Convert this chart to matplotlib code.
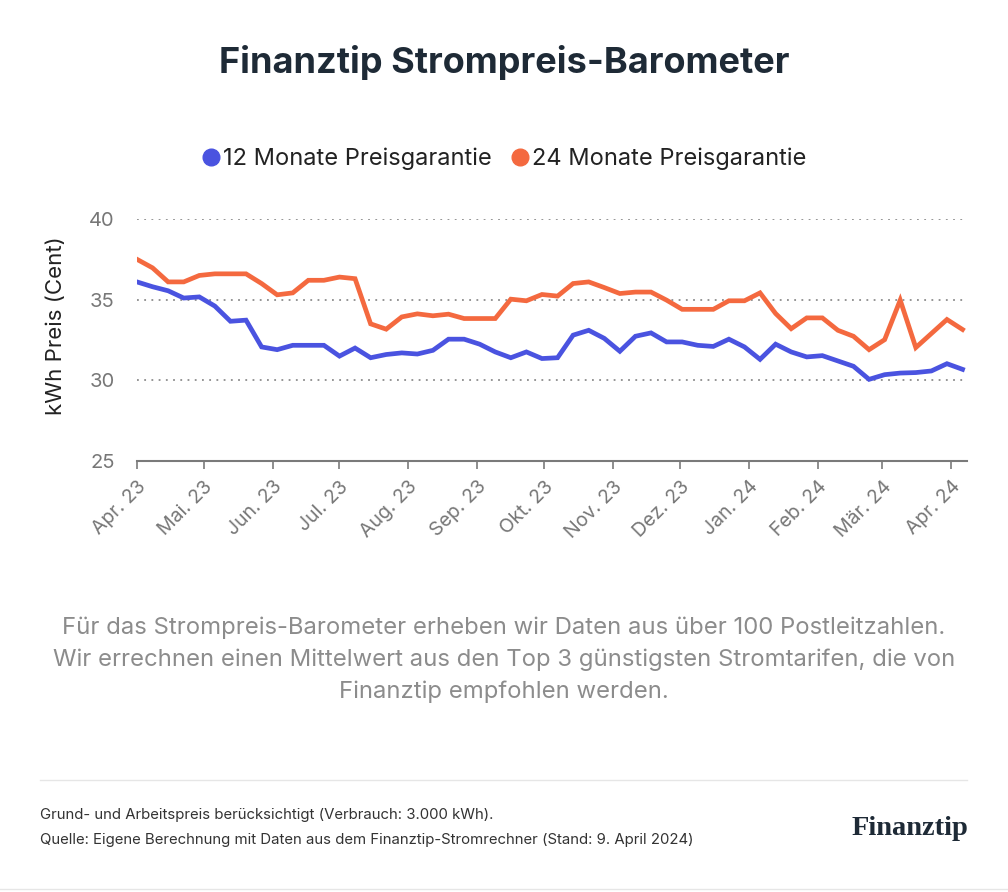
import pandas as pd
import numpy as np
import matplotlib
matplotlib.use('Agg')
import matplotlib.pyplot as plt
from matplotlib.lines import Line2D

plt.rcParams['font.family'] = ['Inter', 'DejaVu Sans']

# weekly values, Apr 2023 - Apr 2024 (ct/kWh)
dates = pd.date_range('2023-04-01', periods=54, freq='7D')
preis_12 = [36.1, 35.8, 35.55, 35.1, 35.17, 34.6, 33.66, 33.73, 32.07, 31.9,
            32.17, 32.17, 32.17, 31.5, 32.0, 31.4, 31.6, 31.7, 31.63, 31.86,
            32.55, 32.55, 32.24, 31.76, 31.4, 31.76, 31.35, 31.4, 32.8, 33.1,
            32.6, 31.8, 32.73, 32.94, 32.38, 32.38, 32.17, 32.1, 32.55, 32.07,
            31.3, 32.24, 31.76, 31.45, 31.53, 31.2, 30.87, 30.06, 30.35, 30.45,
            30.48, 30.58, 31.03, 30.68]
preis_24 = [37.5, 36.97, 36.1, 36.1, 36.5, 36.6, 36.6, 36.6, 36.0, 35.3,
            35.42, 36.2, 36.2, 36.4, 36.3, 33.5, 33.17, 33.93, 34.12, 34.0,
            34.1, 33.83, 33.83, 33.83, 35.03, 34.93, 35.32, 35.22, 36.0, 36.1,
            35.75, 35.38, 35.47, 35.47, 34.97, 34.4, 34.4, 34.4, 34.93, 34.93,
            35.42, 34.14, 33.2, 33.87, 33.87, 33.1, 32.73, 31.9, 32.52, 34.97,
            32.03, 32.9, 33.77, 33.15]
serien = ['12 Monate Preisgarantie', '24 Monate Preisgarantie']
farben = ['#4a53e0', '#f4693f']
monate = ['Apr.', 'Mai.', 'Jun.', 'Jul.', 'Aug.', 'Sep.', 'Okt.', 'Nov.', 'Dez.',
          'Jan.', 'Feb.', 'Mär.', 'Apr.']

fig = plt.figure(figsize=(10.08, 8.92), dpi=100)
ax = fig.add_axes([0.1359, 0.4832, 0.8234, 0.2713])

ax.plot(dates, preis_12, color=farben[0], lw=3.4, solid_joinstyle='miter')
ax.plot(dates, preis_24, color=farben[1], lw=3.4, solid_joinstyle='miter')

ax.set_ylim(25, 40)
ax.set_yticks([25, 30, 35, 40])
ax.set_xlim(pd.Timestamp('2023-04-01'), pd.Timestamp('2024-04-08'))
ticks = pd.date_range('2023-04-01', '2024-04-01', freq='MS')
ax.set_xticks(ticks)
ax.set_xticklabels([f'{m} {d.strftime("%y")}' for m, d in zip(monate, ticks)],
                   rotation=45, ha='right', va='top', rotation_mode='anchor')

for y in [30, 35, 40]:
    ax.axhline(y, color='#8c8c8c', lw=1.3, ls=(0, (1, 3)), zorder=0)

for s in ['top', 'right', 'left']:
    ax.spines[s].set_visible(False)
ax.spines['bottom'].set_color('#7a7a7a')
ax.spines['bottom'].set_linewidth(1.5)
ax.tick_params(axis='x', colors='#7a7a7a', length=6, width=1.2, pad=6,
               labelsize=14, labelcolor='#777777')
ax.tick_params(axis='y', length=0, pad=16, labelsize=14.5, labelcolor='#777777')
ax.set_ylabel('kWh Preis (Cent)', fontsize=16, color='#222222')
ax.yaxis.set_label_coords(-0.085, 0.56)

fig.text(0.5, 0.930, 'Finanztip Strompreis-Barometer', ha='center', va='center',
         fontsize=26, fontweight='bold', color='#1e2a36')

handles = [Line2D([], [], marker='o', ls='', color=c, markersize=12) for c in farben]
fig.legend(handles, serien, loc='center', bbox_to_anchor=(0.500, 0.822), ncol=2,
           frameon=False, fontsize=17, handlelength=0.8, handletextpad=0.1,
           columnspacing=0.8, labelcolor='#222222')

beschreibung = ('Für das Strompreis-Barometer erheben wir Daten aus über 100 Postleitzahlen.\n'
                'Wir errechnen einen Mittelwert aus den Top 3 günstigsten Stromtarifen, die von\n'
                'Finanztip empfohlen werden.')
fig.text(0.5, 0.260, beschreibung, ha='center', va='center', fontsize=17.2,
         color='#8c8c8c', linespacing=1.55)

fig.add_artist(Line2D([0.04, 0.959], [0.126, 0.126], color='#e6e6e6', lw=1))
fig.add_artist(Line2D([0.0, 1.0], [0.003, 0.003], color='#e6e6e6', lw=1))

fig.text(0.04, 0.086, 'Grund- und Arbeitspreis berücksichtigt (Verbrauch: 3.000 kWh).',
         fontsize=10.75, color='#333333', va='center')
fig.text(0.04, 0.058, 'Quelle: Eigene Berechnung mit Daten aus dem Finanztip-Stromrechner (Stand: 9. April 2024)',
         fontsize=10.75, color='#333333', va='center')
fig.text(0.961, 0.071, 'Finanztip', ha='right', va='center', fontsize=20.5,
         fontweight='bold', family=['Liberation Serif', 'DejaVu Serif'], color='#1e2a36')

fig.savefig('out.png', dpi=100, facecolor='white')
